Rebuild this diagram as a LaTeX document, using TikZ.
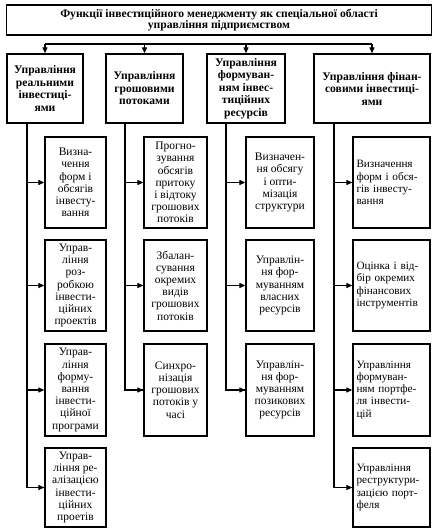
\documentclass[tikz,border=0pt]{standalone}
\usepackage{fontspec}
\setmainfont{Liberation Serif}
\usetikzlibrary{arrows.meta}
\begin{document}
\begin{tikzpicture}[x=1pt,y=-1pt,
  box/.style={draw, line width=1.3pt, inner sep=0pt, align=center},
  topbox/.style={box, font=\bfseries\fontsize{11.6}{11.5}\selectfont},
  lvone/.style={box, font=\bfseries\fontsize{11.6}{12.5}\selectfont, minimum height=69pt},
  lvtwo/.style={box, font=\fontsize{11.5}{12.2}\selectfont},
  lvtwol/.style={box, align=left, font=\fontsize{11.2}{12.2}\selectfont, text width=70pt},
  conn/.style={line width=1.1pt},
  arr/.style={conn, -{Triangle[length=6pt,width=5pt]}}]
\useasboundingbox (0,0) rectangle (438,531);
\fill[white] (0,0) rectangle (438,531);
% title
\node[topbox, minimum width=425pt, minimum height=30pt] (title) at (219,20) {Функції інвестиційного менеджменту як спеціальної області\\управління підприємством};
% level one
\node[lvone, minimum width=76pt] (a) at (45,88.5) {Управління\\реальними\\інвестиці-\\ями};
\node[lvone, minimum width=77pt] (b) at (144.5,88.5) {Управління\\грошовими\\потоками};
\node[lvone, minimum width=78pt] (c) at (246,88.5) {Управління\\формуван-\\ням інвес-\\тиційних\\ресурсів};
\node[lvone, minimum width=116pt] (d) at (372,88.5) {Управління фінан-\\совими інвестиці-\\ями};
% top distribution line
\coordinate (ha) at (45,44);
\coordinate (hb) at (144.5,44);
\coordinate (hc) at (246,44);
\coordinate (hd) at (372,44);
\draw[conn] (ha) -- (hd);
\foreach \n in {a,b,c,d} \draw[arr] (h\n) -- (\n.north);
% column 1
\node[lvtwo, minimum width=61pt, minimum height=91pt] (a1) at (75.5,182.5) {Визна-\\чення\\форм і\\обсягів\\інвесту-\\вання};
\node[lvtwo, minimum width=61pt, minimum height=91pt] (a2) at (75.5,285.5) {Управ-\\ління\\роз-\\робкою\\інвести-\\ційних\\проектів};
\node[lvtwo, minimum width=61pt, minimum height=92pt] (a3) at (75.5,390) {Управ-\\ління\\форму-\\вання\\інвести-\\ційної\\програми};
\node[lvtwo, minimum width=61pt, minimum height=79pt] (a4) at (75.5,487.5) {Управ-\\ління ре-\\алізацією\\інвести-\\ційних\\проетів};
% column 2
\node[lvtwo, minimum width=63pt, minimum height=91pt] (b1) at (175.5,182.5) {Прогно-\\зування\\обсягів\\притоку\\і відтоку\\грошових\\потоків};
\node[lvtwo, minimum width=63pt, minimum height=91pt] (b2) at (175.5,285.5) {Збалан-\\сування\\окремих\\видів\\грошових\\потоків};
\node[lvtwo, minimum width=63pt, minimum height=92pt] (b3) at (175.5,390) {Синхро-\\нізація\\грошових\\потоків у\\часі};
% column 3
\node[lvtwo, minimum width=68pt, minimum height=91pt] (c1) at (280,182.5) {Визначен-\\ня обсягу\\і опти-\\мізація\\структури};
\node[lvtwo, minimum width=68pt, minimum height=91pt] (c2) at (280,285.5) {Управлін-\\ня фор-\\муванням\\власних\\ресурсів};
\node[lvtwo, minimum width=68pt, minimum height=92pt] (c3) at (280,390) {Управлін-\\ня фор-\\муванням\\позикових\\ресурсів};
% column 4
\node[lvtwol, minimum width=77pt, minimum height=91pt] (d1) at (391.5,182.5) {Визначення\\форм і обся-\\гів інвесту-\\вання};
\node[lvtwol, minimum width=77pt, minimum height=91pt] (d2) at (391.5,285.5) {Оцінка і від-\\бір окремих\\фінансових\\інструментів};
\node[lvtwol, minimum width=77pt, minimum height=92pt] (d3) at (391.5,390) {Управління\\формуван-\\ням портфе-\\ля інвести-\\цій};
\node[lvtwol, minimum width=77pt, minimum height=79pt] (d4) at (391.5,487.5) {Управління\\реструктури-\\зацією порт-\\феля};
% trunks
\coordinate (ta) at (27,123);
\coordinate (tb) at (125,123);
\coordinate (tc) at (226,123);
\coordinate (td) at (334,123);
\draw[conn] (ta) |- (a4.west);
\draw[conn] (tb) |- (b3.west);
\draw[conn] (tc) |- (c3.west);
\draw[conn] (td) |- (d4.west);
\foreach \i in {1,2,3,4} \draw[arr] (ta |- a\i.west) -- (a\i.west);
\foreach \i in {1,2,3} \draw[arr] (tb |- b\i.west) -- (b\i.west);
\foreach \i in {1,2,3} \draw[arr] (tc |- c\i.west) -- (c\i.west);
\foreach \i in {1,2,3,4} \draw[arr] (td |- d\i.west) -- (d\i.west);
\end{tikzpicture}
\end{document}
